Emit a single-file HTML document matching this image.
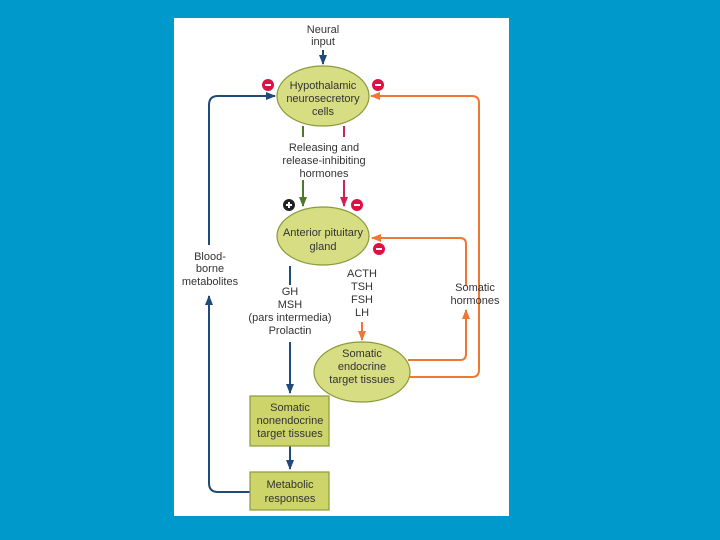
<!DOCTYPE html>
<html><head><style>
body{margin:0;width:720px;height:540px;background:#0099cc;overflow:hidden}
svg{position:absolute;left:0;top:0}
text{font-family:"Liberation Sans",sans-serif;font-size:11px;fill:#333;text-anchor:middle}
</style></head><body>
<svg width="720" height="540" viewBox="0 0 720 540">
<defs>
<marker id="ab" viewBox="0 0 10 10" refX="9" refY="5" markerWidth="5" markerHeight="5" orient="auto"><path d="M0,1 L10,5 L0,9 z" fill="#1f4a7a"/></marker>
<marker id="ao" viewBox="0 0 10 10" refX="9" refY="5" markerWidth="5" markerHeight="5" orient="auto"><path d="M0,1 L10,5 L0,9 z" fill="#ee7733"/></marker>
<marker id="ag" viewBox="0 0 10 10" refX="9" refY="5" markerWidth="5" markerHeight="5" orient="auto"><path d="M0,1 L10,5 L0,9 z" fill="#4a7a2a"/></marker>
<marker id="ar" viewBox="0 0 10 10" refX="9" refY="5" markerWidth="5" markerHeight="5" orient="auto"><path d="M0,1 L10,5 L0,9 z" fill="#cc2255"/></marker>
</defs>
<rect x="174" y="18" width="335" height="498" fill="#fff"/>
<g fill="none" stroke-width="2">
<path d="M323,50 V64" stroke="#1f4a7a" marker-end="url(#ab)"/>
<path d="M250,492 H218 Q209,492 209,483 V296" stroke="#1f4a7a" marker-end="url(#ab)"/>
<path d="M209,245 V105 Q209,96 218,96 H275" stroke="#1f4a7a" marker-end="url(#ab)"/>
<path d="M303,126 V137 M303,180 V206" stroke="#4a7a2a" marker-end="url(#ag)"/>
<path d="M344,126 V137 M344,180 V206" stroke="#cc2255" marker-end="url(#ar)"/>
<path d="M290,266 V285 M290,342 V393" stroke="#1f4a7a" marker-end="url(#ab)"/>
<path d="M290,446 V469" stroke="#1f4a7a" marker-end="url(#ab)"/>
<path d="M362,322 V340" stroke="#ee7733" marker-end="url(#ao)"/>
<path d="M408,360 H460 Q466,360 466,354 V310" stroke="#ee7733" marker-end="url(#ao)"/>
<path d="M466,286 V244 Q466,238 460,238 H372" stroke="#ee7733" marker-end="url(#ao)"/>
<path d="M408,377 H472 Q479,377 479,370 V103 Q479,96 472,96 H371" stroke="#ee7733" marker-end="url(#ao)"/>
</g>
<g fill="#d6dd82" stroke="#8a9a3a" stroke-width="1.2">
<ellipse cx="323" cy="96" rx="46" ry="30"/>
<ellipse cx="323" cy="236" rx="46" ry="29"/>
<ellipse cx="362" cy="372" rx="48" ry="30"/>
<rect x="250" y="396" width="79" height="50" fill="#cdd46a"/>
<rect x="250" y="472" width="79" height="38" fill="#cdd46a"/>
</g>
<g fill="#dd1144"><circle cx="268" cy="85" r="6"/><circle cx="378" cy="85" r="6"/><circle cx="357" cy="205" r="6"/><circle cx="379" cy="249" r="6"/></g>
<circle cx="289" cy="205" r="6" fill="#222"/>
<g stroke="#fff" stroke-width="2"><path d="M265,85h6M375,85h6M354,205h6M376,249h6M286,205h6M289,202v6"/></g>
<text x="323" y="33">Neural</text><text x="323" y="45">input</text>
<text x="323" y="89">Hypothalamic</text><text x="323" y="102">neurosecretory</text><text x="323" y="115">cells</text>
<text x="324" y="151">Releasing and</text><text x="324" y="164">release-inhibiting</text><text x="324" y="177">hormones</text>
<text x="323" y="236">Anterior pituitary</text><text x="323" y="250">gland</text>
<text x="210" y="260">Blood-</text><text x="210" y="272">borne</text><text x="210" y="285">metabolites</text>
<text x="362" y="277">ACTH</text><text x="362" y="290">TSH</text><text x="362" y="303">FSH</text><text x="362" y="316">LH</text>
<text x="290" y="295">GH</text><text x="290" y="308">MSH</text><text x="290" y="321">(pars intermedia)</text><text x="290" y="334">Prolactin</text>
<text x="475" y="291">Somatic</text><text x="475" y="304">hormones</text>
<text x="362" y="357">Somatic</text><text x="362" y="370">endocrine</text><text x="362" y="383">target tissues</text>
<text x="290" y="411">Somatic</text><text x="290" y="424">nonendocrine</text><text x="290" y="437">target tissues</text>
<text x="290" y="488">Metabolic</text><text x="290" y="502">responses</text>
</svg>
</body></html>
